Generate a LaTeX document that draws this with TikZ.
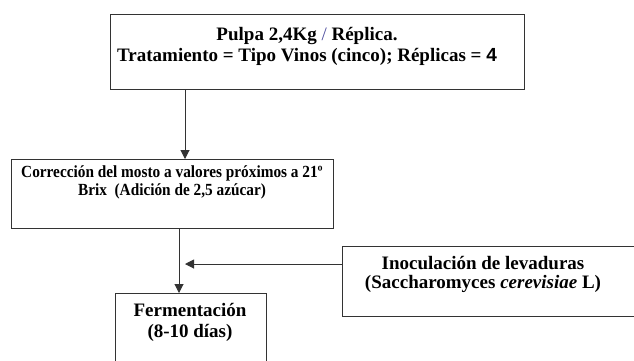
\documentclass[tikz,border=0pt]{standalone}
\usepackage{fontspec}
\setmainfont{Liberation Serif}
\newfontfamily\arialf{Liberation Sans}
\newfontfamily\condf[FakeStretch=0.9]{Liberation Serif}
\usetikzlibrary{arrows.meta}
\tikzset{
  box/.style={draw=black!80, line width=1pt, inner sep=0pt},
  txt/.style={font=\bfseries\fontsize{19}{21}\selectfont, align=center, inner sep=0pt},
  ctxt/.style={font=\condf\bfseries\fontsize{17}{18}\selectfont, align=center, inner sep=0pt},
  conn/.style={draw=black!80, line width=1pt},
  arr/.style={conn, -{Triangle[length=9pt,width=9pt]}}
}
\begin{document}
\begin{tikzpicture}[x=1pt,y=-1pt]
\useasboundingbox (0,0) rectangle (634,360);
\clip (0,0) rectangle (634,360);
% boxes
\node[box, minimum width=414pt, minimum height=75pt, anchor=north west] (pulpa) at (110,14) {};
\node[box, minimum width=322pt, minimum height=69pt, anchor=north west] (corr) at (11,159) {};
\node[box, minimum width=151pt, minimum height=90pt, anchor=north west] (ferm) at (115,293) {};
\node[box, minimum width=320pt, minimum height=70pt, anchor=north west] (inoc) at (342,246) {};
% texts
\node[txt] (t1) at (307,46) {Pulpa 2,4Kg {\mdseries\color{black!55!blue!70}/} Réplica.\\Tratamiento = Tipo Vinos (cinco); Réplicas = {\arialf 4}};
\node[ctxt] (t2) at (172,182) {Corrección del mosto a valores próximos a 21º\\Brix\ \ (Adición de 2,5 azúcar)};
\node[txt] (t3) at (190,322) {Fermentación\\(8-10 días)};
\node[txt, font=\bfseries\fontsize{19}{19}\selectfont] (t4) at (483,274) {Inoculación de levaduras\\(Saccharomyces \textit{cerevisiae} L)};
% connectors
\coordinate (a1) at (185,89);
\coordinate (a2) at (185,159);
\draw[arr] (a1) -- (a2);
\coordinate (b1) at (179,228);
\coordinate (b2) at (179,293);
\draw[arr] (b1) -- (b2);
\coordinate (c1) at (342,264);
\coordinate (c2) at (185,264);
\draw[arr] (c1) -- (c2);
\end{tikzpicture}
\end{document}
